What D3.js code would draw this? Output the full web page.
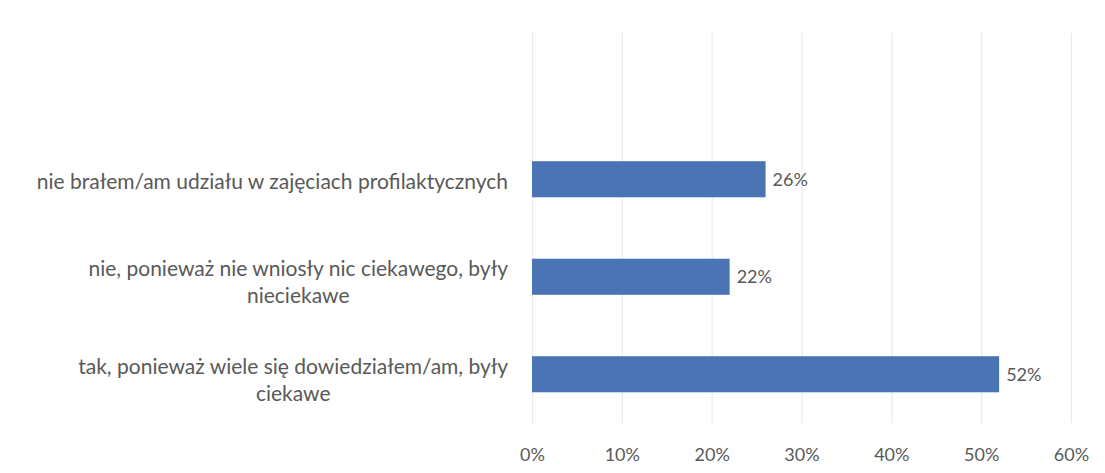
<!DOCTYPE html>
<html>
<head>
<meta charset="utf-8">
<script src="https://cdn.jsdelivr.net/npm/d3@7"></script>
<style>
  body { margin: 0; background: #fff; }
  svg text { font-family: Lato, "Open Sans", sans-serif; fill: #595959; }
  .grid line { stroke: #e8eaec; stroke-width: 1.2px; }
  .grid .domain { display: none; }
  .x-axis .domain, .x-axis line { display: none; }
</style>
</head>
<body>
<svg id="chart" width="1105" height="473"></svg>
<script>
// first slot is empty in the original chart (blank category on top)
const categories = [
  "",
  "nie brałem/am udziału w zajęciach profilaktycznych",
  "nie, ponieważ nie wniosły nic ciekawego, były\nnieciekawe",
  "tak, ponieważ wiele się dowiedziałem/am, były\nciekawe"
];
const values = [null, 0.26, 0.22, 0.52];
const tickValues = [0, 0.1, 0.2, 0.3, 0.4, 0.5, 0.6];

const svg = d3.select("#chart");
const plot = {left: 532, right: 1071, top: 33, bottom: 423};

const x = d3.scaleLinear().domain([0, 0.6]).range([plot.left, plot.right]);
const y = d3.scaleBand()
  .domain(categories)
  .range([plot.top, plot.bottom])
  .paddingInner(0.63)
  .paddingOuter(0.315);

const fmt = d3.format(".0%");

// vertical gridlines
svg.append("g")
  .attr("class", "grid")
  .attr("transform", `translate(0,${plot.bottom})`)
  .call(d3.axisBottom(x).tickValues(tickValues).tickSize(-(plot.bottom - plot.top)).tickFormat(""));

// bars
const rows = categories.map((c, i) => ({cat: c, value: values[i]})).filter(d => d.value != null);

svg.append("g")
  .selectAll("rect")
  .data(rows)
  .join("rect")
    .attr("x", x(0))
    .attr("y", d => y(d.cat))
    .attr("width", d => x(d.value) - x(0))
    .attr("height", y.bandwidth())
    .attr("fill", "#4a74b3");

// value labels
svg.append("g")
  .selectAll("text")
  .data(rows)
  .join("text")
    .attr("x", d => x(d.value) + 7)
    .attr("y", d => y(d.cat) + y.bandwidth() / 2)
    .attr("dy", "0.35em")
    .style("font-size", "18px")
    .text(d => fmt(d.value));

// category labels (wrapped lines centred in a right-aligned block)
const labelRight = 508;
const lineH = 27;
const catG = svg.append("g").style("font-size", "21px");
rows.forEach(d => {
  const lines = d.cat.split("\n");
  const cy = y(d.cat) + y.bandwidth() / 2;
  const t = catG.append("text").attr("text-anchor", "middle");
  const tspans = lines.map(ln => t.append("tspan").text(ln));
  // widest line decides the block
  const w = d3.max(tspans, s => s.node().getComputedTextLength());
  const cx = labelRight - w / 2;
  const y0 = lines.length === 1 ? cy + 2 : cy - 8;
  tspans.forEach((s, i) => s.attr("x", cx).attr("y", y0 + i * lineH).attr("dy", "0.35em"));
});

// x axis labels
svg.append("g")
  .attr("class", "x-axis")
  .attr("transform", `translate(0,${plot.bottom})`)
  .call(d3.axisBottom(x).tickValues(tickValues).tickFormat(fmt).tickSize(0).tickPadding(25))
  .call(g => g.selectAll("text").style("font-size", "18px").style("font-family", null));
</script>
</body>
</html>
